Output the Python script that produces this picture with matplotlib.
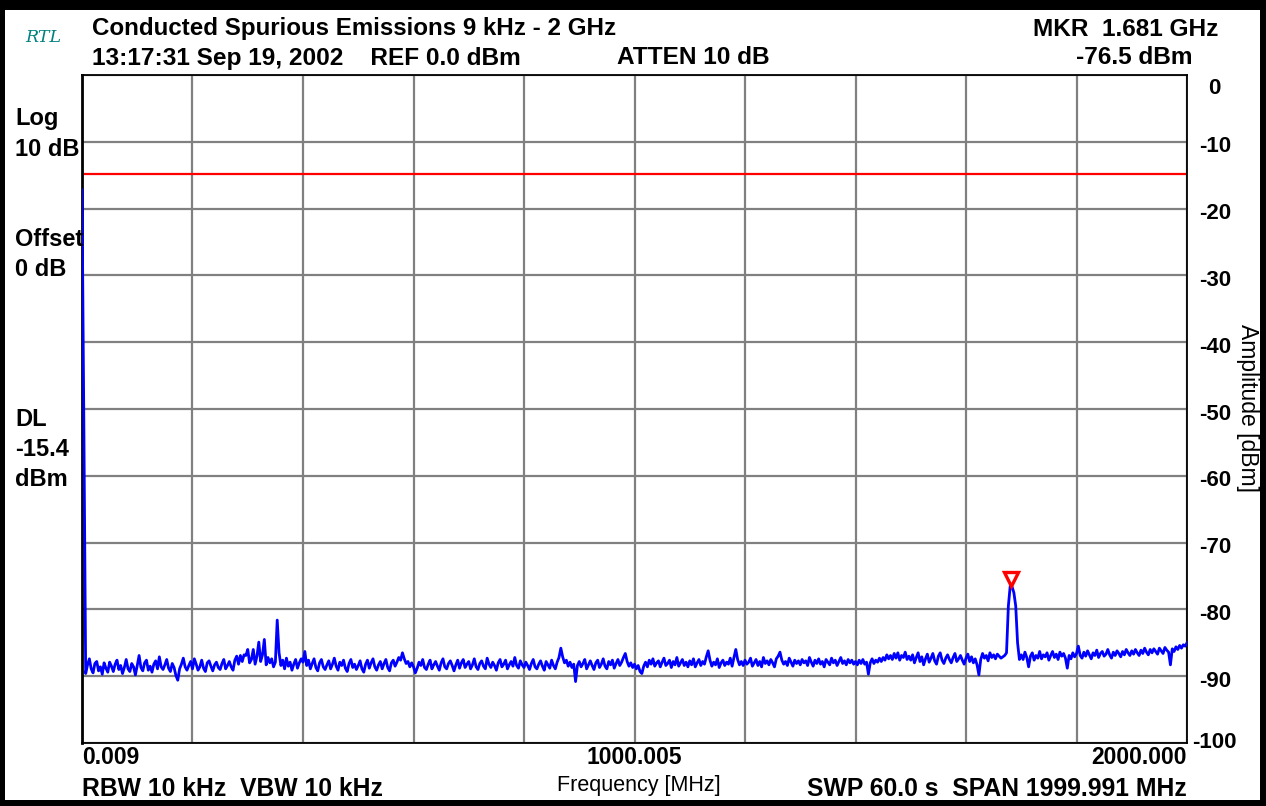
import numpy as np
import matplotlib
matplotlib.use("Agg")
import matplotlib.pyplot as plt
from matplotlib.patches import Rectangle
from matplotlib.transforms import offset_copy

# --- sweep settings ---
START_MHZ = 0.009
STOP_MHZ = 2000.000
REF_DBM = 0.0
BOTTOM_DBM = -100.0
DL_DBM = -14.8          # display line as drawn (label reads -15.4 dBm)
MKR_MHZ = 1681.0
MKR_DBM = -76.5

# trace values in dBm, 601 sweep points (one row = 100 MHz)
trace_dbm = [
    -17.2, -52.0, -89.6, -88.3, -87.4, -88.9, -89.5, -88.1, -87.8, -89.2, -88.6, -89.7, -88.0, -88.8, -89.4, -87.9, -88.5, -89.3, -88.2, -87.6, -89.0, -88.4, -89.6, -88.7, -87.5, -88.9, -89.3, -88.1, -88.6, -89.8,
    -88.4, -86.9, -88.7, -89.2, -88.0, -87.6, -89.1, -88.5, -89.4, -88.2, -87.7, -88.9, -87.1, -88.6, -89.0, -88.3, -87.5, -88.8, -89.3, -88.1, -88.7, -89.9, -90.6, -88.9, -88.2, -87.3, -88.6, -89.1, -88.4, -87.8,
    -88.9, -87.4, -88.2, -89.1, -88.6, -87.6, -88.8, -89.3, -88.0, -87.7, -88.5, -89.2, -88.3, -87.9, -88.7, -89.0, -88.1, -87.5, -88.9, -88.4, -87.8, -88.6, -89.1, -87.6, -87.0, -88.2, -86.9, -87.8, -86.8, -86.9,
    -86.0, -88.0, -87.5, -86.0, -88.2, -87.0, -84.9, -87.8, -86.8, -84.5, -88.3, -87.2, -88.0, -87.4, -88.6, -87.9, -81.6, -86.5, -88.4, -87.6, -88.9, -87.3, -88.5, -87.9, -89.1, -88.2, -87.5, -88.8, -88.0, -87.4,
    -87.9, -86.3, -88.4, -87.6, -88.9, -88.1, -87.4, -88.7, -89.2, -88.0, -87.5, -88.6, -89.0, -88.3, -87.7, -88.9, -88.2, -87.3, -88.5, -89.1, -87.9, -88.4, -87.6, -88.8, -89.3, -88.1, -87.5, -88.7, -88.2, -89.0,
    -88.4, -87.7, -88.9, -89.4, -88.2, -87.6, -88.8, -88.0, -87.4, -88.6, -89.1, -88.3, -87.8, -88.9, -88.1, -87.5, -88.7, -89.2, -88.0, -87.6, -88.5, -87.9, -87.2, -87.6, -86.5, -87.4, -88.1, -87.8, -88.6, -88.0,
    -88.6, -89.5, -88.8, -87.9, -88.4, -87.5, -88.7, -89.0, -88.2, -87.6, -88.9, -88.3, -87.8, -88.5, -89.1, -88.0, -87.4, -88.6, -88.9, -88.1, -87.7, -88.4, -89.2, -88.3, -87.6, -88.8, -88.0, -87.5, -88.7, -88.2,
    -87.8, -88.9, -88.3, -87.4, -88.6, -89.0, -88.1, -87.7, -88.5, -88.9, -87.3, -88.2, -88.7, -87.9, -88.4, -89.1, -88.0, -87.5, -88.6, -88.2, -87.6, -88.9, -88.3, -87.8, -88.5, -87.2, -88.4, -88.8, -87.7, -88.3,
    -88.7, -87.9, -88.4, -89.0, -88.1, -87.5, -88.6, -88.9, -88.2, -87.7, -88.5, -89.1, -87.8, -88.3, -88.8, -87.6, -88.4, -88.9, -87.9, -87.2, -85.8, -87.1, -88.0, -87.6, -88.5, -87.9, -88.7, -88.2, -90.8, -88.4,
    -87.8, -88.6, -88.1, -87.5, -88.9, -88.3, -87.7, -88.4, -89.0, -88.0, -87.6, -88.7, -88.2, -87.4, -88.5, -88.9, -87.8, -88.3, -87.6, -88.8, -88.1, -87.5, -88.4, -87.9, -87.2, -86.6, -87.8, -88.5, -88.0, -88.7,
    -88.2, -88.9, -88.4, -89.3, -89.6, -88.5, -87.9, -88.6, -87.6, -88.2, -87.4, -88.5, -88.0, -87.7, -88.6, -87.9, -87.3, -88.4, -88.1, -87.6, -88.7, -87.8, -88.3, -87.2, -88.5, -88.0, -87.5, -88.4, -87.9, -88.6,
    -87.7, -88.3, -87.4, -88.6, -88.0, -87.5, -88.4, -87.8, -88.2, -87.1, -86.2, -87.6, -88.5, -87.9, -88.3, -87.4, -88.7, -88.0, -87.6, -88.4, -87.9, -88.2, -87.3, -88.5, -87.2, -86.0, -87.5, -88.3, -87.8, -88.4,
    -87.6, -88.2, -87.9, -87.3, -88.5, -88.0, -87.5, -88.4, -87.8, -88.6, -87.2, -88.1, -87.7, -88.3, -87.5, -88.0, -88.6, -87.4, -87.0, -86.4, -87.6, -88.2, -87.8, -88.4, -87.3, -87.9, -88.5, -87.6, -88.1, -87.7,
    -88.3, -87.5, -88.0, -87.7, -88.4, -87.2, -87.9, -88.5, -87.6, -88.1, -87.4, -88.2, -87.8, -88.6, -87.5, -87.9, -88.3, -87.3, -88.0, -87.6, -88.4, -87.8, -87.2, -88.1, -87.7, -88.3, -87.5, -88.0, -87.6, -88.2,
    -87.8, -88.3, -87.6, -88.1, -87.5, -88.2, -87.9, -89.7, -88.0, -87.4, -88.1, -87.6, -87.9, -87.3, -87.8, -87.2, -87.6, -86.8, -87.4, -86.9, -87.5, -86.6, -87.3, -86.5, -87.6, -86.9, -87.2, -86.4, -87.5, -87.0,
    -87.6, -86.8, -88.0, -87.2, -86.5, -87.8, -87.1, -88.3, -87.4, -86.7, -87.9, -87.3, -86.6, -87.7, -88.2, -87.0, -86.5, -87.6, -88.1, -87.3, -86.8, -87.5, -88.0, -87.2, -86.6, -87.8, -87.4, -86.9, -87.6, -88.2,
    -87.3, -86.7, -87.8, -87.1, -88.0, -87.4, -88.3, -89.8, -87.5, -86.6, -87.3, -86.9, -87.7, -86.5, -87.2, -86.8, -87.4, -86.7, -87.0, -87.3, -87.1, -86.9, -86.5, -79.5, -76.5, -76.6, -77.5, -79.5, -85.0, -87.5,
    -86.8, -87.5, -86.4, -87.2, -88.6, -87.0, -86.5, -87.6, -86.9, -87.3, -86.3, -87.4, -86.8, -87.1, -86.5, -87.6, -86.9, -86.3, -87.2, -86.7, -87.5, -86.4, -87.0, -86.6, -87.3, -88.8, -86.9, -87.4, -86.5, -87.1,
    -86.6, -85.5, -86.9, -87.3, -86.4, -87.0, -86.2, -86.8, -87.4, -86.5, -86.9, -86.1, -87.2, -86.6, -86.3, -87.0, -86.7, -86.0, -86.8, -87.3, -86.4, -86.9, -86.2, -86.6, -87.1, -86.3, -86.8, -86.0, -86.5, -86.9,
    -86.2, -86.7, -86.0, -86.5, -86.9, -86.1, -86.6, -85.8, -86.4, -86.8, -86.0, -86.5, -85.9, -86.3, -86.7, -85.8, -86.2, -86.6, -85.7, -86.1, -86.4, -88.3, -85.9, -86.3, -85.6, -86.0, -85.4, -85.8, -85.3, -85.5,
    -85.0,
]

x_labels = ["0.009", "1000.005", "2000.000"]
y_levels = [0, -10, -20, -30, -40, -50, -60, -70, -80, -90, -100]

W, H = 1266, 806


def fx(x):
    return x / W


def fy(y):
    return 1 - y / H


fig = plt.figure(figsize=(W / 100, H / 100), dpi=100)
fig.patch.set_facecolor("black")
fig.patches.append(Rectangle((fx(5), fy(800)), fx(1260) - fx(5), fy(10) - fy(800),
                             transform=fig.transFigure, facecolor="white",
                             edgecolor="none", zorder=-5))

ax = fig.add_axes([fx(82), fy(743), fx(1187) - fx(82), fy(75) - fy(743)])
ax.set_zorder(2)
ax.set_facecolor("white")

freq = np.linspace(START_MHZ, STOP_MHZ, len(trace_dbm))
ax.plot(freq, trace_dbm, color="#0000ff", lw=2.0, zorder=3)
ax.axhline(DL_DBM, color="#ff0000", lw=1.6, zorder=2)

# marker triangle sitting on the peak
mk_tr = offset_copy(ax.transData, fig=fig, x=0, y=7, units="dots")
ax.plot([MKR_MHZ], [MKR_DBM], marker="v", ms=10, mfc="white", mec="#ff0000",
        mew=2.4, transform=mk_tr, zorder=4, clip_on=False)

ax.set_xlim(START_MHZ, STOP_MHZ)
ax.set_ylim(BOTTOM_DBM, REF_DBM)
ax.set_xticks(np.linspace(START_MHZ, STOP_MHZ, 11))
ax.set_yticks(y_levels)
ax.set_xticklabels([])
ax.set_yticklabels([])
ax.tick_params(length=0)
ax.grid(True, color="#808080", lw=1.6)
for s in ax.spines.values():
    s.set_color("black")
    s.set_linewidth(1.3)
ax.spines["left"].set_linewidth(2.0)

bold = dict(family="Liberation Sans", weight="bold", color="black")
reg = dict(family="Liberation Sans", color="black")

# right-hand amplitude labels
for lv in y_levels:
    dy = -3.6
    if lv == 0:
        dy = -9.5
    elif lv == -100:
        dy = 0
    ax.annotate(str(lv), xy=(1, lv), xycoords=ax.get_yaxis_transform(),
                xytext=(20, dy), textcoords="offset points",
                ha="center", va="center", fontsize=16, annotation_clip=False, **bold)

# frequency labels
for f, lab, ha in zip([START_MHZ, (START_MHZ + STOP_MHZ) / 2, STOP_MHZ], x_labels,
                      ["left", "center", "right"]):
    ax.annotate(lab, xy=(f, 0), xycoords=ax.get_xaxis_transform(),
                xytext=(0, -10.5), textcoords="offset points",
                ha=ha, va="center", fontsize=16.5, annotation_clip=False, **bold)

# header
fig.text(fx(25), fy(37), "RTL", family="DejaVu Serif", style="italic",
         color="#008080", fontsize=12.5, va="center", ha="left")
fig.text(fx(92), fy(29), "Conducted Spurious Emissions 9 kHz - 2 GHz",
         fontsize=17.4, va="center", ha="left", **bold)
fig.text(fx(1218), fy(29), "MKR  1.681 GHz", fontsize=17.6, va="center", ha="right", **bold)
fig.text(fx(92), fy(58), "13:17:31 Sep 19, 2002    REF 0.0 dBm",
         fontsize=17.6, va="center", ha="left", **bold)
fig.text(fx(617), fy(58), "ATTEN 10 dB", fontsize=17.6, va="center", ha="left", **bold)
fig.text(fx(1193), fy(58), "-76.5 dBm", fontsize=17.6, va="center", ha="right", **bold)

# left side settings
for txt, y in [("Log", 119), ("10 dB", 149), ("Offset", 240), ("0 dB", 270),
               ("DL", 419), ("-15.4", 449), ("dBm", 479)]:
    fig.text(fx(15), fy(y), txt, fontsize=17, va="center", ha="left", **bold)

# footer
fig.text(fx(82), fy(789), "RBW 10 kHz  VBW 10 kHz", fontsize=17.8, va="center", ha="left", **bold)
fig.text(fx(639), fy(786), "Frequency [MHz]", fontsize=15.5, va="center", ha="center", **reg)
fig.text(fx(1187), fy(789), "SWP 60.0 s  SPAN 1999.991 MHz", fontsize=17.8,
         va="center", ha="right", **bold)
fig.text(fx(1247), fy(408), "Amplitude [dBm]", fontsize=16.5, va="center", ha="center",
         rotation=-90, **reg)

fig.savefig("out.png", dpi=100, facecolor=fig.get_facecolor())
